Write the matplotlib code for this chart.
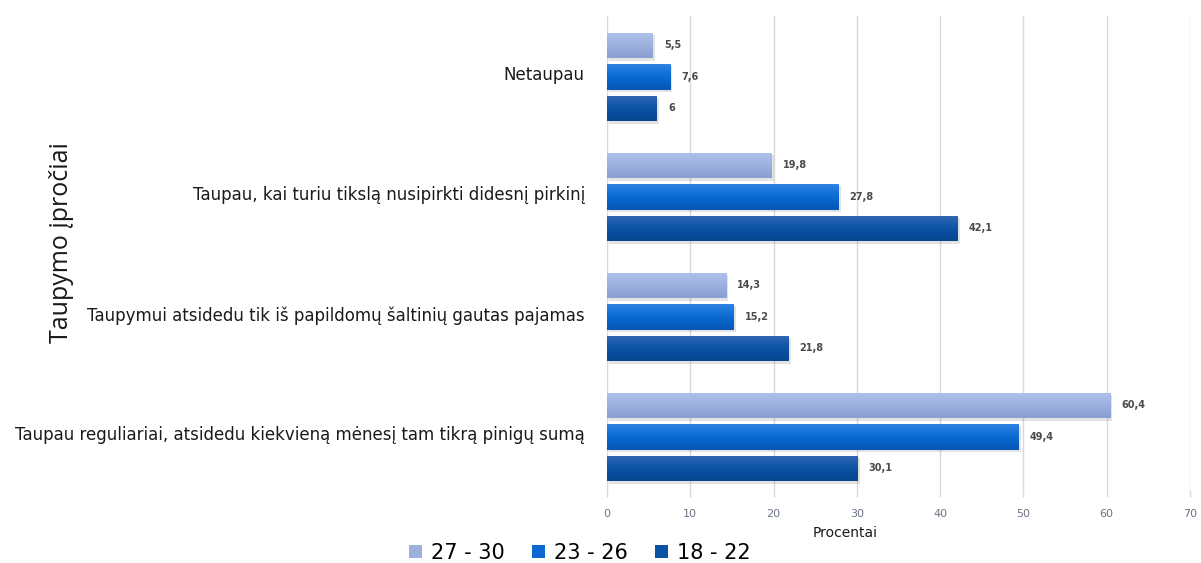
import numpy as np
import matplotlib
matplotlib.use("Agg")
import matplotlib.pyplot as plt
from matplotlib.colors import LinearSegmentedColormap
from matplotlib.patches import Rectangle

# Saving habits by age group (percent)
categories = [
    "Netaupau",
    "Taupau, kai turiu tikslą nusipirkti didesnį pirkinį",
    "Taupymui atsidedu tik iš papildomų šaltinių gautas pajamas",
    "Taupau reguliariai, atsidedu kiekvieną mėnesį tam tikrą pinigų sumą",
]
series_names = ["27 - 30", "23 - 26", "18 - 22"]
age_27_30 = [5.5, 19.8, 14.3, 60.4]
age_23_26 = [7.6, 27.8, 15.2, 49.4]
age_18_22 = [6.0, 42.1, 21.8, 30.1]
x_ticks = [0, 10, 20, 30, 40, 50, 60, 70]

series_values = [age_27_30, age_23_26, age_18_22]
base_colors = ["#9db1df", "#0b69d1", "#0b52a6"]
grad_stops = [
    ("#b0c2ea", "#9db1df", "#8aa0d2"),
    ("#2f83e3", "#0a6ad2", "#0757b5"),
    ("#3468b3", "#0b52a6", "#08468f"),
]

plt.rcParams["font.family"] = ["DejaVu Sans"]

fig = plt.figure(figsize=(12.01, 5.63), dpi=100)
ax = fig.add_axes([607 / 1201, 1 - 490 / 563, (1190 - 607) / 1201, (490 - 16) / 563])

y = np.arange(len(categories))
offsets = [-0.2625, 0.0, 0.2625]
bar_h = 0.215

for vals, off, col, stops in zip(series_values, offsets, base_colors, grad_stops):
    pos = y + off
    # soft drop shadow
    for v, p in zip(vals, pos):
        ax.add_patch(Rectangle((0.25, p - bar_h / 2 + 0.02), v, bar_h,
                               facecolor="#000000", alpha=0.11, lw=0, zorder=2))
    bars = ax.barh(pos, vals, height=bar_h, color=col, zorder=3,
                   edgecolor="none")
    cmap = LinearSegmentedColormap.from_list("g", list(stops))
    grad = np.linspace(0, 1, 64).reshape(-1, 1)
    for b, v, p in zip(bars, vals, pos):
        im = ax.imshow(grad, cmap=cmap, aspect="auto",
                       extent=(0, v, p + bar_h / 2, p - bar_h / 2),
                       origin="upper", zorder=4, interpolation="bicubic")
        im.set_clip_path(b)
        ax.annotate(f"{v:g}".replace(".", ","), xy=(v, p), xytext=(8, 0),
                    textcoords="offset points", ha="left", va="center",
                    fontsize=7, fontweight="bold", color="#4a4a4a", zorder=5)

ax.set_xlim(0, 70)
ax.set_ylim(3.442, -0.508)

ax.set_xticks(x_ticks)
ax.set_xticklabels([str(t) for t in x_ticks])
ax.set_yticks(y - 0.03)
ax.set_yticklabels(categories)
ax.tick_params(axis="x", length=5, width=1, color="#d9d9d9", labelsize=8,
               labelcolor="#6b7385", pad=9)
ax.tick_params(axis="y", length=0, labelsize=12, labelcolor="#1a1a1a", pad=16)
ax.grid(axis="x", color="#d9d9d9", linewidth=1, zorder=0)
ax.set_axisbelow(True)
for side in ["top", "right", "bottom"]:
    ax.spines[side].set_visible(False)
ax.spines["left"].set_color("#d9d9d9")

fig.text(845 / 1201, 1 - 533 / 563, "Procentai", ha="center", va="center",
         fontsize=10, color="#1a1a1a")
fig.text(62 / 1201, 1 - 243 / 563, "Taupymo įpročiai", rotation=90,
         ha="center", va="center", fontsize=18, color="#1a1a1a",
         family=["Open Sans", "DejaVu Sans"])

handles = [Rectangle((0, 0), 1, 1, facecolor=c) for c in base_colors]
fig.legend(handles, series_names, loc="center", bbox_to_anchor=(580 / 1201, 1 - 553 / 563),
           ncol=3, frameon=False, fontsize=15, handlelength=0.6, handleheight=0.6,
           handletextpad=0.45, columnspacing=1.3)

fig.savefig("out.png", dpi=100)
